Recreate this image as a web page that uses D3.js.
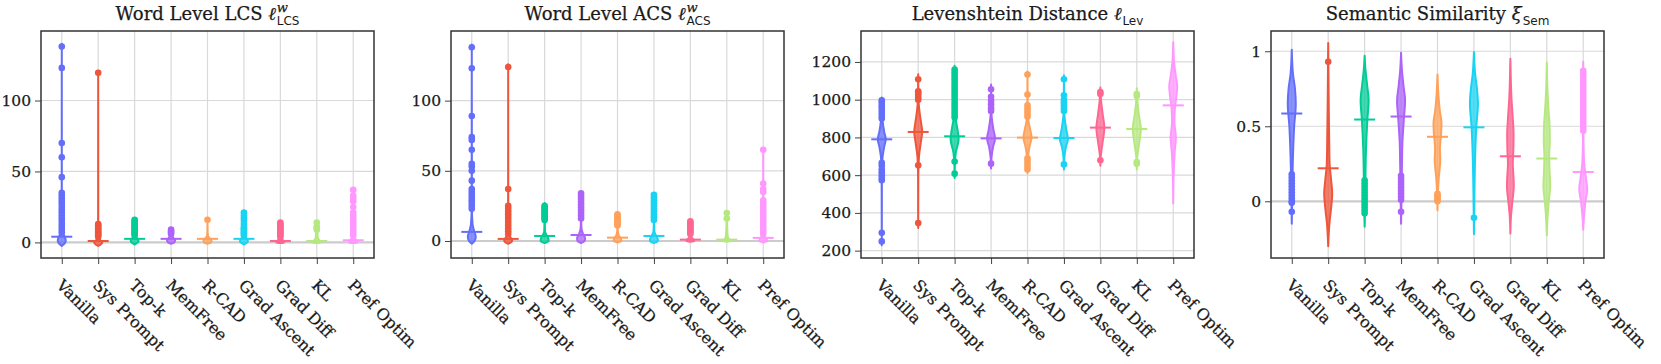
<!DOCTYPE html>
<html>
<head>
<meta charset="utf-8">
<script src="https://cdn.jsdelivr.net/npm/d3@7"></script>
<style>
  body { margin: 0; background: #fff; }
  svg text { font-family: "DejaVu Serif", serif; fill: #1a1a1a; stroke: #1a1a1a; stroke-width: 0.25px; }
</style>
</head>
<body>
<svg id="chart" width="1661" height="364"></svg>
<script>
  // categories and colours (plotly default palette)
  var categories = ["Vanilla", "Sys Prompt", "Top-k", "MemFree", "R-CAD", "Grad Ascent", "Grad Diff", "KL", "Pref Optim"];
  var palette = ["#636EFA", "#EF553B", "#00CC96", "#AB63FA", "#FFA15A", "#19D3F3", "#FF6692", "#B6E880", "#FF97FF"];

  // ---- Word level LCS ----
  var lcsTicks = [0, 50, 100];
  var lcsMeans = [4, 1, 2.5, 2.5, 2.5, 2.5, 1, 1, 1.5];
  // violin outlines: [value, relative density]
  var lcsShapes = [
    [[-2.5,0],[0,0.9],[1.5,1],[4,0.7],[7,0.25],[12,0.06],[25,0.02],[140,0]],
    [[-2.5,0],[0,1],[1,0.7],[3,0.2],[6,0.05],[14,0.02],[121,0]],
    [[-1.5,0],[0,0.8],[1,1],[3,0.6],[5,0.2],[8,0.05],[17,0]],
    [[-1,0],[0,0.8],[1.5,1],[3,0.6],[5,0.2],[10,0]],
    [[-1,0],[0,0.9],[1.5,1],[3,0.5],[5,0.1],[9,0.02],[17,0]],
    [[-1.5,0],[0,0.8],[1,1],[3,0.6],[5,0.2],[8,0.05],[22,0]],
    [[-0.5,0],[0,1],[1,0.8],[3,0.2],[15,0]],
    [[-0.5,0],[0,1],[1,0.8],[3,0.3],[9,0.1],[15,0]],
    [[-0.5,0],[0,1],[1.5,0.8],[4,0.2],[38,0]]
  ];
  var lcsPoints = [
    [138,123,70,60,46,35,33,31,29,27,25,23,21,19,17,15,13,11,9,7],
    [119.5,13,12,11,10,9,8,7,6,5,4],
    [16,15,14,13,12,11,10,9,8,7,6,5],
    [9,8,7,6],
    [16],
    [21,19,17,15,13,11,10,9,8,7,6,5],
    [14,13,12,11,10,9,8,7,6,5,4],
    [14,11,10,9],
    [37,33,31,29,25,21,19,17,15,13,11,9,7,5]
  ];

  // ---- Word level ACS ----
  var acsTicks = [0, 50, 100];
  var acsMeans = [6.5, 1.5, 3.6, 4.3, 2.4, 3.6, 1, 1, 2.2];
  var acsShapes = [
    [[-2,0],[0,0.7],[3,1],[7,0.6],[12,0.2],[22,0.04],[140,0]],
    [[-2,0],[0,1],[1.5,0.8],[4,0.3],[8,0.08],[25,0.02],[126,0]],
    [[-1.5,0],[0,1],[2,0.9],[4,0.5],[7,0.1],[15,0.03],[27,0]],
    [[-1.5,0],[0,0.9],[2,1],[5,0.5],[9,0.1],[16,0.03],[35,0]],
    [[-1,0],[0,1],[2,0.8],[4,0.3],[8,0.05],[20,0]],
    [[-1.5,0],[0,1],[2,0.9],[4,0.5],[7,0.1],[15,0.03],[34,0]],
    [[-0.5,0],[0,1],[1,0.8],[3,0.2],[15,0]],
    [[-0.5,0],[0,1],[1,0.7],[3,0.25],[10,0.1],[16,0.05],[21,0]],
    [[-1,0],[0,1],[1.5,0.8],[4,0.3],[10,0.05],[66,0]]
  ];
  var acsPoints = [
    [138,123,89,74,72,65,55,53,50,43,37,35,33,31,29,27,25,23],
    [124,37,25,23,21,19,17,15,13,11,9,7,5],
    [25,24,23,22,21,20,19,18,17,16,15],
    [34,32,30,28,26,24,22,20,18,16],
    [19,18,17,16,15,14,13,12,11],
    [33,31,29,27,25,23,21,19,17,15],
    [14,13,12,11,10,9,8,7,6,5],
    [20,16],
    [65,41,37,35,29,27,25,23,21,19,17,15,13,11,9,7,5]
  ];

  // ---- Levenshtein distance ----
  var levTicks = [200, 400, 600, 800, 1000, 1200];
  var levMeans = [790, 829, 806, 795, 799, 797, 852, 845, 970];
  var levShapes = [
    [[228,0],[560,0.03],[680,0.15],[750,0.6],[790,1],[830,0.6],[890,0.2],[960,0.06],[1012,0]],
    [[320,0],[600,0.03],[700,0.2],[780,0.7],[830,1],[880,0.7],[950,0.25],[1000,0.08],[1135,0]],
    [[585,0],[650,0.05],[720,0.3],[790,1],[830,0.8],[900,0.25],[960,0.06],[1180,0]],
    [[635,0],[690,0.1],[750,0.5],[795,1],[840,0.6],[900,0.2],[940,0.05],[1080,0]],
    [[610,0],[700,0.15],[750,0.5],[800,1],[850,0.6],[900,0.15],[1000,0.03],[1150,0]],
    [[630,0],[690,0.1],[750,0.5],[790,1],[840,0.6],[900,0.2],[940,0.05],[1130,0]],
    [[650,0],[700,0.1],[780,0.6],[850,1],[920,0.6],[990,0.2],[1065,0]],
    [[630,0],[690,0.1],[770,0.6],[845,1],[910,0.6],[980,0.2],[1060,0]],
    [[450,0],[600,0.1],[720,0.35],[800,0.65],[880,0.3],[950,0.4],[1020,0.8],[1070,1],[1130,0.6],[1200,0.2],[1305,0]]
  ];
  var levPoints = [
    [997,985,972,960,945,930,915,900,665,650,630,615,600,585,573,295,249],
    [1108,1045,1035,1025,1010,1000,652,346],
    [1160,1145,1130,1115,1100,1085,1070,1055,1040,1025,1010,995,980,965,950,935,920,905,672,608],
    [1055,1015,995,975,955,940,661],
    [1133,1027,970,955,940,925,910,690,675,660,645,630],
    [1108,1023,1000,985,970,955,940,657],
    [1040,1030,679],
    [1030,1020,670,660],
    []
  ];

  // ---- Semantic similarity ----
  var semTicks = [0, 0.5, 1];
  var semMeans = [0.585, 0.22, 0.545, 0.565, 0.43, 0.493, 0.30, 0.285, 0.195];
  var semShapes = [
    [[-0.15,0],[-0.05,0.05],[0.1,0.15],[0.3,0.3],[0.5,0.6],[0.65,1],[0.75,0.8],[0.85,0.3],[1.01,0]],
    [[-0.3,0],[-0.15,0.3],[-0.05,0.7],[0.05,1],[0.15,0.7],[0.25,0.35],[0.4,0.25],[0.6,0.15],[0.8,0.08],[1.055,0]],
    [[-0.17,0],[-0.05,0.1],[0.15,0.2],[0.35,0.35],[0.55,0.7],[0.67,1],[0.78,0.6],[0.88,0.2],[0.97,0]],
    [[-0.15,0],[0,0.1],[0.2,0.2],[0.4,0.35],[0.55,0.7],[0.67,1],[0.77,0.6],[0.88,0.2],[0.99,0]],
    [[-0.06,0],[0.05,0.1],[0.15,0.3],[0.28,0.7],[0.35,0.6],[0.45,0.9],[0.52,1],[0.6,0.6],[0.7,0.25],[0.845,0]],
    [[-0.22,0],[-0.1,0.05],[0.1,0.15],[0.3,0.3],[0.5,0.6],[0.65,1],[0.75,0.75],[0.85,0.3],[0.995,0]],
    [[-0.215,0],[-0.1,0.15],[0,0.5],[0.1,0.85],[0.15,0.8],[0.25,0.6],[0.35,0.75],[0.45,0.8],[0.55,0.6],[0.7,0.25],[0.85,0.08],[0.95,0]],
    [[-0.227,0],[-0.1,0.2],[0,0.5],[0.1,0.85],[0.2,0.7],[0.3,0.6],[0.4,0.75],[0.5,0.7],[0.6,0.45],[0.75,0.15],[0.925,0]],
    [[-0.19,0],[-0.1,0.2],[0,0.55],[0.08,1],[0.15,0.7],[0.25,0.25],[0.35,0.1],[0.45,0.05],[0.93,0]]
  ];
  var semPoints = [
    [0.18,0.16,0.14,0.12,0.10,0.08,0.06,0.04,0.02,0,-0.01,-0.07],
    [0.93],
    [0.14,0.12,0.10,0.08,0.06,0.04,0.02,0,-0.02,-0.04,-0.06,-0.08],
    [0.17,0.15,0.13,0.11,0.09,0.07,0.05,0.03,0.01,-0.07],
    [0.05,0.04,0.03,0.02,0.01,0],
    [-0.11],
    [],
    [],
    [0.87,0.85,0.83,0.81,0.79,0.77,0.75,0.73,0.71,0.69,0.67,0.65,0.63,0.61,0.59,0.57,0.55,0.53,0.51,0.49,0.47]
  ];

  var panels = [
    { title: "Word Level LCS ", sym: "\u2113", sup: "w", sub: "LCS", domain: [-11, 149], ticks: lcsTicks, shapes: lcsShapes, points: lcsPoints, means: lcsMeans },
    { title: "Word Level ACS ", sym: "\u2113", sup: "w", sub: "ACS", domain: [-12.1, 149.6], ticks: acsTicks, shapes: acsShapes, points: acsPoints, means: acsMeans },
    { title: "Levenshtein Distance ", sym: "\u2113", sup: "", sub: "Lev", domain: [161, 1364], ticks: levTicks, shapes: levShapes, points: levPoints, means: levMeans },
    { title: "Semantic Similarity ", sym: "\u03BE", sup: "", sub: "Sem", domain: [-0.378, 1.135], ticks: semTicks, shapes: semShapes, points: semPoints, means: semMeans }
  ];

  var svg = d3.select("#chart");
  var pw = 333, plotTop = 31, plotBottom = 258;
  var halfWidth = 4, meanHalf = 10.5;

  panels.forEach(function (p, i) {
    var left = 41 + i * 410;
    var g = svg.append("g").attr("transform", "translate(" + left + ",0)");

    var x = d3.scalePoint().domain(categories).range([0, pw]).padding(0.57);
    var y = d3.scaleLinear().domain(p.domain).range([plotBottom, plotTop]);

    // grid
    g.append("g").selectAll("line").data(categories).join("line")
      .attr("x1", d => x(d)).attr("x2", d => x(d))
      .attr("y1", plotTop).attr("y2", plotBottom)
      .attr("stroke", "#d9d9d9").attr("stroke-width", 1.2);
    g.append("g").selectAll("line").data(p.ticks).join("line")
      .attr("x1", 0).attr("x2", pw)
      .attr("y1", d => y(d)).attr("y2", d => y(d))
      .attr("stroke", d => d === 0 ? "#cccccc" : "#d9d9d9")
      .attr("stroke-width", d => d === 0 ? 2.2 : 1.2);

    // axes
    var yAxis = d3.axisLeft(y).tickValues(p.ticks).tickSize(6).tickPadding(4).tickFormat(d3.format("~g"));
    var ya = g.append("g").call(yAxis);
    ya.select(".domain").remove();
    ya.selectAll("line").attr("stroke", "#444");
    ya.selectAll("text").style("font-size", "15.5px");

    var xAxis = d3.axisBottom(x).tickSize(6).tickFormat("");
    var xa = g.append("g").attr("transform", "translate(0," + plotBottom + ")").call(xAxis);
    xa.select(".domain").remove();
    xa.selectAll("line").attr("stroke", "#444");

    g.append("g").selectAll("text").data(categories).join("text")
      .attr("transform", d => "translate(" + (x(d) + 2) + ",278) rotate(45)")
      .attr("dy", "0.72em")
      .style("font-size", "16px")
      .text(d => d);

    // violins
    categories.forEach(function (c, k) {
      var cx = x(c), col = palette[k];
      var prof = p.shapes[k].slice().reverse();
      var area = d3.area()
        .curve(d3.curveMonotoneY)
        .y(d => y(d[0]))
        .x0(d => cx - halfWidth * d[1])
        .x1(d => cx + halfWidth * d[1]);
      g.append("path").attr("d", area(prof))
        .attr("fill", col).attr("fill-opacity", 0.75)
        .attr("stroke", col).attr("stroke-width", 2).attr("stroke-linejoin", "round");
      g.append("g").selectAll("circle").data(p.points[k]).join("circle")
        .attr("cx", cx).attr("cy", d => y(d)).attr("r", 3.3).attr("fill", col);
      g.append("line")
        .attr("x1", cx - meanHalf).attr("x2", cx + meanHalf)
        .attr("y1", y(p.means[k])).attr("y2", y(p.means[k]))
        .attr("stroke", col).attr("stroke-width", 2);
    });

    // frame
    g.append("rect").attr("x", 0).attr("y", plotTop).attr("width", pw).attr("height", plotBottom - plotTop)
      .attr("fill", "none").attr("stroke", "#333").attr("stroke-width", 1.5);

    // title with math part
    var t = g.append("g");
    var main = t.append("text").attr("y", 20).style("font-size", "18px");
    main.append("tspan").text(p.title);
    main.append("tspan").style("font-style", "italic").text(p.sym);
    var mw = main.node().getComputedTextLength();
    var sw = 0, bw = 0;
    if (p.sup) {
      var sup = t.append("text").attr("x", mw + 1).attr("y", 12)
        .style("font-size", "13px").style("font-style", "italic").text(p.sup);
      sw = sup.node().getComputedTextLength() + 1;
    }
    var sub = t.append("text").attr("x", mw + 1).attr("y", 25)
      .style("font-family", "'DejaVu Sans', sans-serif").style("font-size", "12px").style("stroke-width", "0").text(p.sub);
    bw = sub.node().getComputedTextLength() + 1;
    var total = mw + Math.max(sw, bw);
    t.attr("transform", "translate(" + (pw / 2 - total / 2) + ",0)");
  });
</script>
</body>
</html>
